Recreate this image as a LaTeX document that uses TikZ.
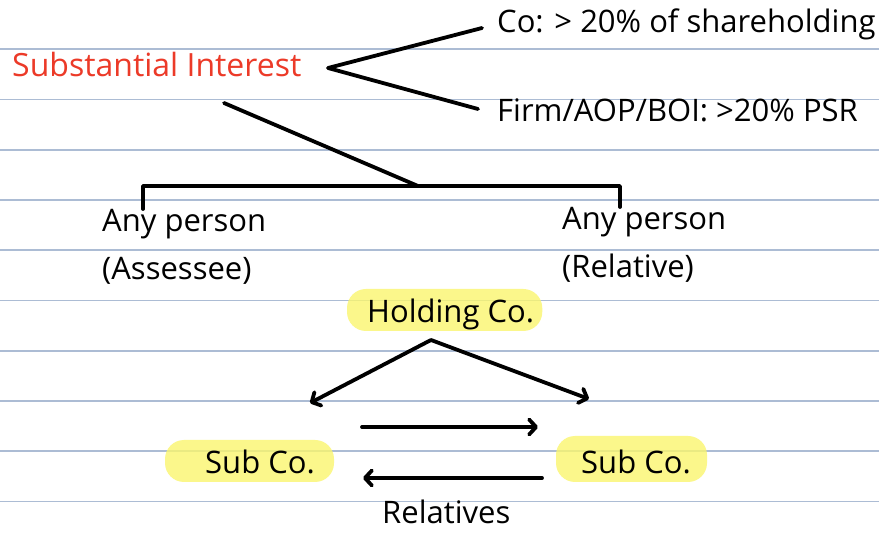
\documentclass[tikz,border=0pt]{standalone}
\usepackage{fontspec}
\setmainfont{Open Sans}
\usetikzlibrary{positioning,backgrounds,calc,arrows.meta}
\definecolor{ruleblue}{RGB}{172,188,212}
\definecolor{hiyellow}{RGB}{250,246,110}
\definecolor{sired}{RGB}{236,58,40}
\begin{document}
\begin{tikzpicture} [x=1pt, y=-1pt, inner sep=0pt,
    every node/.style={font=\fontsize{31}{48}\selectfont},
    lbl/.style={anchor=base west},
    two/.style={anchor=north west, align=left},
    edge/.style={line width=3.8pt, line cap=round, line join=round},
    arr/.style={edge, -{Straight Barb[length=7pt, width=15pt, round]}},
    hl/.style={fill=hiyellow, fill opacity=0.8, rounded corners=19pt}]
    \useasboundingbox (0,0) rectangle (879,534);
    % place nodes
    \node [lbl, text=sired, font=\fontsize{32}{48}\selectfont] (subst) at (12,77) {Substantial Interest};
    \node [lbl] (co) at (497,33) {Co: > 20\% of shareholding};
    \node [lbl] (firm) at (497,122) {Firm/AOP/BOI: >20\% PSR};
    \node [two] (assessee) at (102,209) {Any person\\(Assessee)};
    \node [two] (relative) at (562,207) {Any person\\(Relative)};
    \node [lbl] (holding) at (367,323) {Holding Co.};
    \node [lbl] (subL) at (205,474) {Sub Co.};
    \node [lbl] (subR) at (581,474) {Sub Co.};
    \node [lbl] (rels) at (382,524) {Relatives};
    % free ends
    \coordinate (siFork) at (328,68);
    \coordinate (coEnd) at (482,28);
    \coordinate (firmEnd) at (478,109);
    \coordinate (siFoot) at (224,103);
    \coordinate (brJoin) at (418,186);
    \coordinate (brL) at (143,186);
    \coordinate (brR) at (620,186);
    \coordinate (hcFork) at (431,340);
    \coordinate (toSubL) at (310,403);
    \coordinate (toSubR) at (589,399);
    \coordinate (fwdA) at (362,427);
    \coordinate (fwdB) at (538,427);
    \coordinate (backA) at (542,478);
    \coordinate (backB) at (363,478);
    % paper and highlights
    \begin{scope}[on background layer]
      \fill[white] (0,0) rectangle (879,534);
      \foreach \k in {0,...,9}
        \draw[ruleblue, line width=1.6pt] (0,{49.3+50.25*\k}) -- (879,{49.3+50.25*\k});
      \fill[hl] ($(holding.base west)+(-20,-34)$) rectangle ($(holding.base east)+(8,8)$);
      \fill[hl] ($(subL.base west)+(-40,-34)$) rectangle ($(subL.base east)+(19,8)$);
      \fill[hl] ($(subR.base west)+(-25,-38)$) rectangle ($(subR.base east)+(16,8)$);
    \end{scope}
    % draw edges
    \draw[edge] (coEnd) -- (siFork) -- (firmEnd);
    \draw[edge] (siFoot) -- (brJoin);
    \draw[edge] (assessee.north -| brL) -- (brL) -- (brR) -- (relative.north -| brR);
    \draw[arr] (hcFork) -- (toSubL);
    \draw[arr] (hcFork) -- (toSubR);
    \draw[arr] (fwdA) -- (fwdB);
    \draw[arr] (backA) -- (backB);
  \end{tikzpicture}
\end{document}
